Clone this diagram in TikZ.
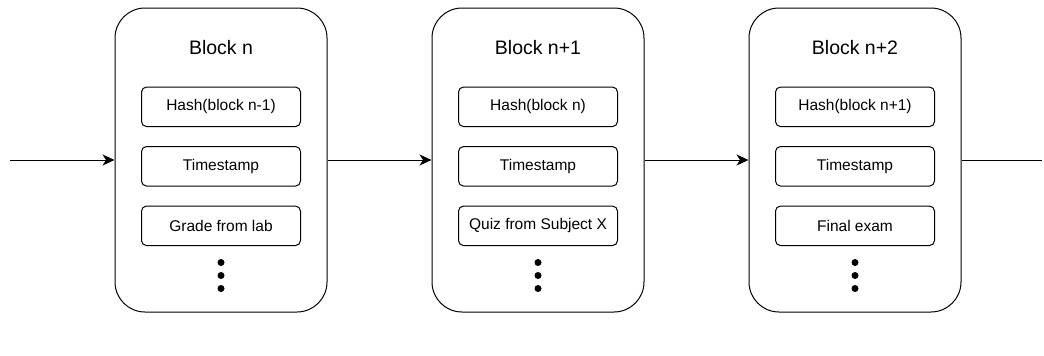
\documentclass[tikz,border=0pt]{standalone}
\usepackage{fontspec}
\setmainfont{Liberation Sans}
\usepackage{tikz}
\usetikzlibrary{arrows.meta,positioning}

\begin{document}
\begin{tikzpicture}[auto, node distance=317pt, line width=1pt, >={Stealth[length=12pt,width=11pt,inset=3.5pt]}]
\tikzstyle{block} = [draw, rectangle, rounded corners=30pt, minimum height=304pt, minimum width=212pt]
\tikzstyle{field} = [draw, rectangle, rounded corners=5pt, minimum height=39.5pt, minimum width=159pt, font=\fontsize{15.5}{18}\selectfont, node distance=59.5pt]
\tikzstyle{title} = [font=\fontsize{19.5}{23}\selectfont, node distance=59.3pt]
\tikzstyle{dot} = [circle, fill, inner sep=0pt, minimum size=7pt, node distance=13pt]
\tikzstyle{input} = [coordinate]
\tikzstyle{output} = [coordinate]   % page frame first, then the three blocks

\useasboundingbox (0,0) rectangle (1044pt,-356pt);

    \node [block] (blockn) at (221pt,-160pt) {};
    \node [block, right of = blockn] (blocknp1) {};
    \node [block, right of = blocknp1] (blocknp2) {};
    \node [input, left of = blockn, node distance=211pt] (input) {};
    \node [output, right of = blocknp2, node distance=187pt] (output) {};

    % block n
    \node [title] (titlen) at ([yshift=-40pt]blockn.north) {Block n};
    \node [field, below of = titlen, node distance=59.3pt] (hashn) {Hash(block n-1)};
    \node [field, below of = hashn] (timen) {Timestamp};
    \node [field, below of = timen] (datan) {Grade from lab};
    \node [dot, below of = datan, node distance=36.7pt] (dotna) {};
    \node [dot, below of = dotna] (dotnb) {};
    \node [dot, below of = dotnb] (dotnc) {};

    % block n+1
    \node [title] (titlenp1) at ([yshift=-40pt]blocknp1.north) {Block n+1};
    \node [field, below of = titlenp1, node distance=59.3pt] (hashnp1) {Hash(block n)};
    \node [field, below of = hashnp1] (timenp1) {Timestamp};
    \node [field, below of = timenp1] (datanp1) {Quiz from Subject X};
    \node [dot, below of = datanp1, node distance=36.7pt] (dotnp1a) {};
    \node [dot, below of = dotnp1a] (dotnp1b) {};
    \node [dot, below of = dotnp1b] (dotnp1c) {};

    % block n+2
    \node [title] (titlenp2) at ([yshift=-40pt]blocknp2.north) {Block n+2};
    \node [field, below of = titlenp2, node distance=59.3pt] (hashnp2) {Hash(block n+1)};
    \node [field, below of = hashnp2] (timenp2) {Timestamp};
    \node [field, below of = timenp2] (datanp2) {Final exam};
    \node [dot, below of = datanp2, node distance=36.7pt] (dotnp2a) {};
    \node [dot, below of = dotnp2a] (dotnp2b) {};
    \node [dot, below of = dotnp2b] (dotnp2c) {};

    % chain links
    \draw [->] (input) -- (blockn);
    \draw [->] (blockn) -- (blocknp1);
    \draw [->] (blocknp1) -- (blocknp2);
    \draw [-] (blocknp2) -- (output);

\end{tikzpicture}
\end{document}
